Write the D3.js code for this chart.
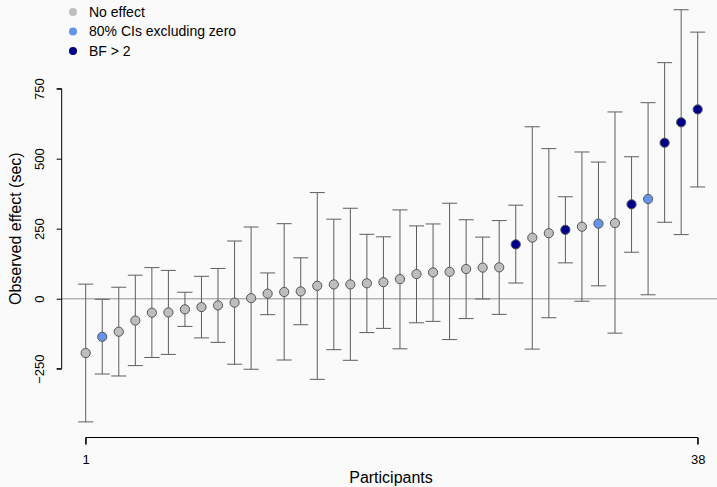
<!DOCTYPE html>
<html>
<head>
<meta charset="utf-8">
<script src="https://cdn.jsdelivr.net/npm/d3@7"></script>
<style>
  html, body { margin: 0; padding: 0; background: #fafafa; }
  svg { display: block; font-family: "Liberation Sans", Arial, Helvetica, sans-serif; }
</style>
</head>
<body>
<svg id="chart" width="717" height="487"></svg>
<script>
// Per-participant observed effect (sec) with interval bounds, sorted by effect
const participants = d3.range(1, 39);
const effect = [-194, -136, -118, -78, -50, -49, -38, -30, -24, -14,
                2, 18, 24, 26, 46, 51, 51, 55, 59, 70,
                88, 94, 96, 106, 111, 112, 194, 218, 234, 246,
                257, 268, 270, 337, 356, 557, 630, 676];
const lower = [-440, -269, -276, -239, -210, -199, -99, -140, -156, -234,
               -252, -57, -219, -93, -288, -182, -220, -121, -106, -179,
               -86, -81, -146, -71, -1, -56, 56, -180, -68, 128,
               -9, 46, -123, 166, 14, 273, 229, 399];
const upper = [52, -2, 41, 84, 111, 101, 23, 80, 108, 206,
               256, 92, 268, 146, 379, 284, 323, 230, 221, 317,
               260, 267, 341, 282, 220, 279, 334, 614, 536, 364,
               524, 488, 667, 507, 700, 843, 1032, 952];
// 0 = no effect, 1 = 80% CIs excluding zero, 2 = BF > 2
const group = [0, 1, 0, 0, 0, 0, 0, 0, 0, 0,
               0, 0, 0, 0, 0, 0, 0, 0, 0, 0,
               0, 0, 0, 0, 0, 0, 2, 0, 0, 2,
               0, 1, 0, 2, 1, 2, 2, 2];
const groupLabels = ["No effect", "80% CIs excluding zero", "BF > 2"];
const groupColors = ["#bebebe", "#6495ed", "#00008b"];
const yTicks = [-250, 0, 250, 500, 750];
const xTicks = [1, 38];

const rows = participants.map((p, i) => ({ p, effect: effect[i], lo: lower[i], hi: upper[i], g: group[i] }));

const svg = d3.select("#chart");
const x = d3.scaleLinear().domain([1, 38]).range([85.7, 697.7]);
const y = d3.scaleLinear().domain([-250, 750]).range([368.7, 88.7]);

// reference line at zero
svg.append("line")
  .attr("x1", 62).attr("x2", 717)
  .attr("y1", y(0)).attr("y2", y(0))
  .attr("stroke", "#b3b3b3").attr("stroke-width", 1.5);

// error bars
const bars = svg.append("g").attr("stroke", "#5e5e5e").attr("stroke-width", 1).attr("fill", "none");
const capHalf = 7.5;
rows.forEach(d => {
  bars.append("line").attr("x1", x(d.p)).attr("x2", x(d.p)).attr("y1", y(d.lo)).attr("y2", y(d.hi));
  bars.append("line").attr("x1", x(d.p) - capHalf).attr("x2", x(d.p) + capHalf).attr("y1", y(d.lo)).attr("y2", y(d.lo));
  bars.append("line").attr("x1", x(d.p) - capHalf).attr("x2", x(d.p) + capHalf).attr("y1", y(d.hi)).attr("y2", y(d.hi));
});

// points
svg.append("g").selectAll("circle").data(rows).join("circle")
  .attr("cx", d => x(d.p)).attr("cy", d => y(d.effect)).attr("r", 4.6)
  .attr("fill", d => groupColors[d.g])
  .attr("stroke", "#555").attr("stroke-width", 1);

// y axis
const yAxis = svg.append("g").attr("transform", "translate(61.7,0)")
  .call(d3.axisLeft(y).tickValues(yTicks).tickSize(5).tickPadding(0).tickFormat(d => d < 0 ? "\u2212" + Math.abs(d) : d));
yAxis.select(".domain").attr("stroke", "#000").attr("d", `M-5,${y(-250)}H0V${y(750)}H-5`);
yAxis.selectAll(".tick line").attr("stroke", "#000");
yAxis.selectAll(".tick text")
  .attr("font-size", 13).attr("fill", "#000").attr("font-family", "Liberation Sans, Arial, sans-serif")
  .attr("text-anchor", "middle")
  .attr("transform", "translate(-22,0) rotate(-90)")
  .attr("x", 0).attr("dy", "0.35em");

// x axis
const xAxis = svg.append("g").attr("transform", "translate(0,437.5)")
  .call(d3.axisBottom(x).tickValues(xTicks).tickSize(7).tickPadding(10).tickFormat(d3.format("d")));
xAxis.select(".domain").attr("stroke", "#000").attr("d", `M${x(1)},7V0H${x(38)}V7`);
xAxis.selectAll(".tick line").attr("stroke", "#000");
xAxis.selectAll(".tick text").attr("font-size", 13).attr("fill", "#000").attr("font-family", "Liberation Sans, Arial, sans-serif");

// axis titles
svg.append("text").attr("x", 391).attr("y", 483).attr("text-anchor", "middle")
  .attr("font-size", 16).text("Participants");
svg.append("text").attr("transform", `translate(21,${y(250)}) rotate(-90)`).attr("text-anchor", "middle")
  .attr("font-size", 16).text("Observed effect (sec)");

// legend
const legend = svg.append("g");
groupLabels.forEach((lab, i) => {
  const ly = 12 + i * 19.5;
  legend.append("circle").attr("cx", 73).attr("cy", ly).attr("r", 4).attr("fill", groupColors[i]);
  legend.append("text").attr("x", 89).attr("y", ly).attr("dy", "0.35em").attr("font-size", 14).text(lab);
});
</script>
</body>
</html>
